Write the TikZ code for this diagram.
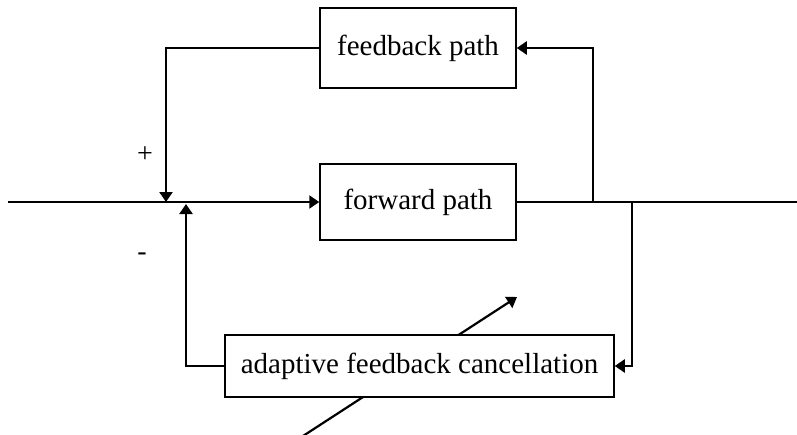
\documentclass[tikz,border=0pt]{standalone}
\usepackage{fontspec}
\setmainfont{Liberation Serif}
\usetikzlibrary{arrows.meta}
\begin{document}
\begin{tikzpicture}[x=1pt,y=-1pt,
  blk/.style={draw, line width=1.5pt, fill=white, inner sep=0pt, font=\fontsize{29}{34}\selectfont},
  conn/.style={line width=2.2pt},
  arr/.style={conn, -{Triangle[length=10pt,width=13pt]}},
  sgn/.style={font=\fontsize{28}{32}\selectfont, inner sep=0pt}]
\useasboundingbox (0,0) rectangle (797,434);
% adjustment arrow (behind the adaptive block)
\coordinate (d0) at (303,436);
\coordinate (d1) at (517,297);
\draw[arr] (d0) -- (d1);
% blocks
\node[blk, minimum width=196pt, minimum height=80pt] (fb) at (418,48) {feedback path};
\node[blk, minimum width=196pt, minimum height=76pt] (fwd) at (418,202) {forward path};
\node[blk, minimum width=389pt, minimum height=62pt] (afc) at (419.5,366) {adaptive feedback cancellation};
% points on the main line
\coordinate (in) at (8,202);
\coordinate (out) at (797,202);
\coordinate (sp) at (166,202);
\coordinate (sm) at (186,204);
\coordinate (t1) at (593,202);
\coordinate (t2) at (632,202);
% connectors
\draw[arr] (in) -- (fwd.west);
\draw[conn] (fwd.east) -- (out);
\draw[arr] (t1) |- (fb.east);
\draw[arr] (fb.west) -| (sp);
\draw[arr] (t2) |- (afc.east);
\draw[arr] (afc.west) -| (sm);
% signs
\node[sgn] (plus) at (145,155) {+};
\node[sgn] (minus) at (142,257) {-};
\end{tikzpicture}
\end{document}
